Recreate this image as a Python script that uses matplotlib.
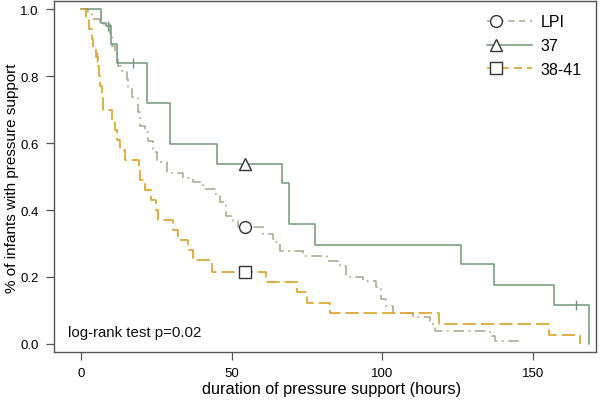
import matplotlib
matplotlib.use("Agg")
import matplotlib.pyplot as plt
from matplotlib.lines import Line2D
from matplotlib.legend_handler import HandlerLine2D

plt.rcParams['font.family'] = ['Liberation Sans', 'DejaVu Sans']

# ---- data ----
green_t = [0, 6.5, 8.2, 9.9, 11.8, 21.9, 29.5, 45.2, 66.6, 69.1, 77.7, 126.1, 137.2, 157.2, 168.6]
green_s = [1.0, 0.958, 0.95, 0.895, 0.839, 0.719, 0.597, 0.537, 0.48, 0.358, 0.296, 0.239, 0.177, 0.116, 0.0]
green_cens_t = [9.0, 17.2, 164.5]
green_cens_s = [0.95, 0.839, 0.116]

orange_t = [0, 1.7, 2.7, 3.5, 4.1, 4.9, 5.5, 5.9, 6.3, 6.8, 7.2, 10.4, 11.3, 11.9, 12.9, 14.6,
            19.2, 19.7, 21.2, 23.3, 24.9, 25.5, 30.5, 32.2, 35.5, 37.2, 43.4,
            61.3, 71.6, 74.9, 82.6, 118.8, 155.3, 165.6]
orange_s = [1.0, 0.97, 0.94, 0.91, 0.88, 0.857, 0.83, 0.80, 0.77, 0.735, 0.70, 0.67, 0.64, 0.61, 0.58, 0.55,
            0.52, 0.49, 0.46, 0.43, 0.40, 0.37, 0.34, 0.31, 0.28, 0.25, 0.214,
            0.184, 0.154, 0.122, 0.092, 0.06, 0.027, 0.0]
orange_cens_t = [5.2]
orange_cens_s = [0.857]

gray_t = [0, 2.3, 3.7, 6.3, 9.6, 10.2, 11.3, 12.4, 13.5, 15.2, 15.7, 16.8, 19.0, 19.6, 21.2, 22.3,
          24.0, 25.1, 28.4, 33.9, 37.3, 40.6, 44.4, 46.1, 48.3, 50.5, 52.0, 60.5, 63.8, 66.0,
          73.8, 81.6, 85.9, 88.1, 93.7, 98.1, 99.8, 101.4, 103.6, 110.3, 115.8, 117.5,
          135.7, 137.4, 145.7]
gray_s = [1.0, 0.985, 0.97, 0.955, 0.925, 0.89, 0.866, 0.831, 0.816, 0.791, 0.761, 0.736, 0.692, 0.652, 0.632, 0.607,
          0.572, 0.542, 0.512, 0.497, 0.483, 0.463, 0.448, 0.423, 0.383, 0.368, 0.348, 0.328, 0.304, 0.279,
          0.264, 0.249, 0.234, 0.199, 0.189, 0.169, 0.134, 0.114, 0.092, 0.08, 0.06, 0.038,
          0.025, 0.01, 0.01]

labels = ["LPI", "37", "38-41"]
marker_t = 54.4
x_ticks = [0, 50, 100, 150]
y_ticks = [0.0, 0.2, 0.4, 0.6, 0.8, 1.0]

# ---- styles ----
c_gray = "#aaa48a"
c_green = "#6f9679"
c_orange = "#d9a22a"


class LeftMarkerHandler(HandlerLine2D):
    def create_artists(self, legend, orig_handle, xdescent, ydescent, width, height, fontsize, trans):
        yc = height / 2 - ydescent
        line = Line2D([-xdescent, width - xdescent], [yc, yc])
        self.update_prop(line, orig_handle, legend)
        line.set_marker('None')
        line.set_transform(trans)
        m = Line2D([-xdescent + 6], [yc])
        self.update_prop(m, orig_handle, legend)
        m.set_linestyle('None')
        m.set_transform(trans)
        return [line, m]


fig = plt.figure(figsize=(6.0, 4.06), dpi=100)
ax = fig.add_axes([0.09, 0.1305, 0.903, 0.8645])

lg, = ax.step(gray_t, gray_s, where='post', color=c_gray, lw=1.1)
lg.set_dashes([7, 3, 1.2, 3])
lgr, = ax.step(green_t, green_s, where='post', color=c_green, lw=1.1)
lo, = ax.step(orange_t, orange_s, where='post', color=c_orange, lw=1.2)
lo.set_dashes([8, 3])

ax.plot(green_cens_t, green_cens_s, ls='none', marker='|', ms=7, mew=1.0, color=c_green)
ax.plot(orange_cens_t, orange_cens_s, ls='none', marker='|', ms=7, mew=1.0, color=c_orange)

def yat(ts, ss, t):
    v = ss[0]
    for a, b in zip(ts, ss):
        if a <= t:
            v = b
    return v

mk = dict(ms=8.5, mfc='white', mec='#333333', mew=1.0, ls='none', zorder=5)
ax.plot([marker_t], [yat(gray_t, gray_s, marker_t)], marker='o', **mk)
ax.plot([marker_t], [yat(green_t, green_s, marker_t)], marker='^', **mk)
ax.plot([marker_t], [yat(orange_t, orange_s, marker_t)], marker='s', **mk)

h1 = Line2D([], [], color=c_gray, lw=1.1, marker='o', ms=8.5, mfc='white', mec='#333333', mew=1.0)
h1.set_dashes([4, 3])
h2 = Line2D([], [], color=c_green, lw=1.1, marker='^', ms=8.5, mfc='white', mec='#333333', mew=1.0)
h3 = Line2D([], [], color=c_orange, lw=1.2, marker='s', ms=8.5, mfc='white', mec='#333333', mew=1.0)
h3.set_dashes([5, 3])
leg = ax.legend([h1, h2, h3], labels, handler_map={Line2D: LeftMarkerHandler()},
                loc='upper left', bbox_to_anchor=(0.80, 0.962), frameon=False,
                fontsize=11.5, handlelength=2.8, handletextpad=0.55, labelspacing=0.55,
                borderpad=0, borderaxespad=0)

ax.text(-4.3, 0.036, "log-rank test p=0.02", fontsize=10.8, va='center', ha='left', color='#111111')

ax.set_xlim(-9, 171)
ax.set_ylim(-0.024, 1.024)
ax.set_xticks(x_ticks)
ax.set_yticks(y_ticks)
ax.set_xticklabels([str(v) for v in x_ticks])
ax.set_yticklabels([f"{v:.1f}" for v in y_ticks])
ax.tick_params(direction='out', length=6, width=0.9, color='#555555', labelsize=9.5, pad=5)
for s in ax.spines.values():
    s.set_color('#555555')
    s.set_linewidth(1.0)

ax.set_xlabel("duration of pressure support (hours)", fontsize=11.7)
ax.set_ylabel("% of infants with pressure support", fontsize=11.0)
ax.xaxis.set_label_coords(0.513, -0.103)
ax.yaxis.set_label_coords(-0.0775, 0.4986)
ax.xaxis.label.set_va('center')
ax.yaxis.label.set_va('center')

fig.savefig("out.png", dpi=100)
